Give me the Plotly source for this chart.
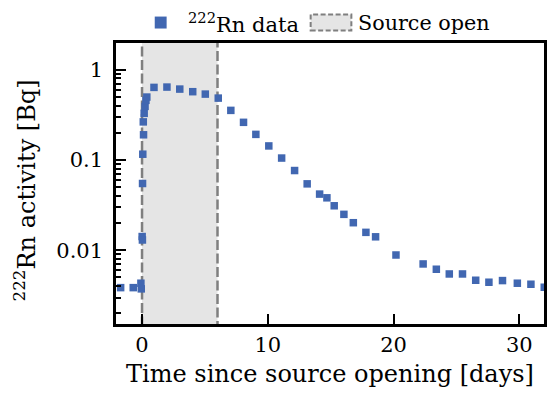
import plotly.graph_objects as go

# Measured 222Rn activity versus time since the source was opened
days = [-1.70, -0.70, -0.09, -0.06, 0.01, 0.03, 0.04, 0.06, 0.12,
        0.10, 0.17, 0.24, 0.31, 0.38,
        0.95, 1.98, 3.00, 4.03, 5.03, 6.06, 7.06, 8.07, 9.05,
        10.08, 11.10, 12.13, 13.13, 14.12, 14.70, 15.28, 16.05, 16.80,
        17.80, 18.57, 20.19, 22.35, 23.40, 24.43, 25.48, 26.53, 27.58,
        28.66, 29.84, 30.92, 31.98]
activity = [0.00386, 0.00386, 0.00432, 0.00374, 0.0142, 0.0130, 0.0549, 0.1158, 0.190,
            0.264, 0.328, 0.392, 0.457, 0.497,
            0.636, 0.641, 0.609, 0.570, 0.536, 0.484, 0.354, 0.261, 0.192,
            0.143, 0.105, 0.0764, 0.0544, 0.0419, 0.0381, 0.0311, 0.0250, 0.0202,
            0.0158, 0.0141, 0.00887, 0.00706, 0.00617, 0.00547, 0.00547, 0.00466, 0.00443,
            0.00462, 0.00432, 0.00421, 0.00390]

# Period during which the source was open
source_open = [0, 6]

y_ticks = [0.01, 0.1, 1]
y_tick_labels = ["0.01", "0.1", "1"]
x_ticks = [0, 10, 20, 30]

legend_labels = ["<sup>222</sup>Rn data", "Source open"]
y_title = "<sup>222</sup>Rn activity [Bq]"

FONT = "DejaVu Serif"
BLUE = "#4167b1"
GRAY = "#7f7f7f"
SHADE = "#e5e5e5"

fig = go.Figure()

# Shaded open-source window with dashed borders
fig.add_trace(go.Scatter(
    x=[source_open[0], source_open[1], source_open[1], source_open[0], source_open[0]],
    y=[1e-4, 1e-4, 1e2, 1e2, 1e-4],
    mode="lines", fill="toself", fillcolor=SHADE,
    line=dict(color=GRAY, width=2.5, dash="10px,3.5px"),
    showlegend=False, hoverinfo="skip",
))

# Data points
fig.add_trace(go.Scatter(
    x=days, y=activity, mode="markers",
    marker=dict(symbol="square", size=7.5, color=BLUE, line=dict(width=0)),
    showlegend=False,
))

# Legend drawn above the axes: symbols as shapes, labels as annotations
fig.add_shape(type="rect", xref="paper", yref="paper",
              x0=0.0905, x1=0.1183, y0=1.0515, y1=1.0941,
              fillcolor=BLUE, line=dict(width=0))
fig.add_shape(type="rect", xref="paper", yref="paper",
              x0=0.4548, x1=0.5499, y0=1.0444, y1=1.1015,
              fillcolor=SHADE, line=dict(color=GRAY, width=2, dash="5px,2.5px"))
fig.add_annotation(text=legend_labels[0], xref="paper", yref="paper",
                   x=0.164, y=1.0728, xanchor="left", yanchor="middle",
                   showarrow=False, font=dict(family=FONT, size=21))
fig.add_annotation(text=legend_labels[1], xref="paper", yref="paper",
                   x=0.5615, y=1.0728, xanchor="left", yanchor="middle",
                   showarrow=False, font=dict(family=FONT, size=20.7))

# Rotated y-axis title
fig.add_annotation(text=y_title, xref="paper", yref="paper",
                   x=-0.212, y=0.476, xanchor="center", yanchor="middle",
                   textangle=-90, showarrow=False,
                   font=dict(family=FONT, size=24))

minor_vals = [m * 10.0 ** e for e in range(-3, 1) for m in range(2, 10)]

fig.update_layout(
    width=553, height=394,
    margin=dict(l=116, r=6, t=42.5, b=69.8),
    plot_bgcolor="white", paper_bgcolor="white",
    font=dict(family=FONT, size=19, color="black"),
    showlegend=False,
    xaxis=dict(
        range=[-2.07, 31.96], tickvals=x_ticks, ticks="inside", ticklen=10,
        tickwidth=2, tickcolor="black", showline=True, linewidth=2.5,
        linecolor="black", mirror=True, showgrid=False, zeroline=False,
        tickfont=dict(family=FONT, size=21),
        title=dict(text="Time since source opening [days]",
                   font=dict(family=FONT, size=24), standoff=10),
    ),
    yaxis=dict(
        type="log", range=[-2.816, 0.2949], tickvals=y_ticks,
        ticktext=y_tick_labels, ticks="inside", ticklen=10, tickwidth=2,
        tickcolor="black", showline=True, linewidth=2.5, linecolor="black",
        mirror=True, showgrid=False, zeroline=False,
        tickfont=dict(family=FONT, size=21), ticklabelstandoff=6,
        minor=dict(tickvals=minor_vals, ticks="inside", ticklen=5,
                   tickwidth=1.5, tickcolor="black", showgrid=False),
    ),
)

fig.write_html("out.html")
